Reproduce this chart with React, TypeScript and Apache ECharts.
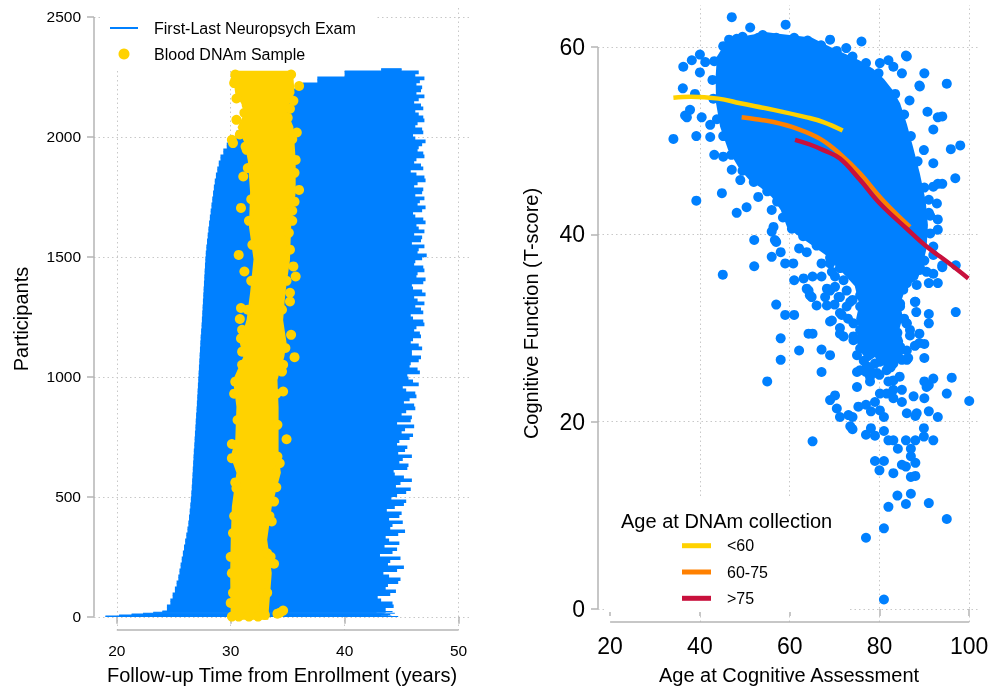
import { useEffect, useRef } from 'react'
import * as echarts from 'echarts'

const FONT = '"Liberation Sans", Arial, Helvetica, sans-serif'
const BLUE = '#0080ff'
const GOLD = '#ffd200'
const ORANGE = '#ff8000'
const CRIMSON = '#c8103c'
const AXIS = '#b4b4b4'
const GRID = '#c8c8c8'

// left panel: participants grouped in bands (index edges), first exam and last exam (years)
const bandEdges = [
  0, 4, 8, 12, 16, 20,
  25, 50, 75, 100, 125, 150, 175, 200, 225, 250, 275,
  300, 325, 350, 375, 400, 425, 450, 475,
  500, 525, 550, 575, 600, 625, 650, 675,
  700, 725, 750, 775, 800, 825, 850, 875,
  900, 925, 950, 975, 1000, 1025, 1050, 1075, 1100, 1125, 1150, 1175,
  1200, 1225, 1250, 1275, 1300, 1325, 1350, 1375, 1400, 1425, 1450, 1475,
  1500, 1525, 1550, 1575, 1600, 1625, 1650, 1675, 1700, 1725, 1750, 1775,
  1800, 1825, 1850, 1875, 1900, 1925, 1950, 1975,
  2000, 2025, 2050, 2075, 2100, 2125, 2150, 2175, 2200, 2225, 2250,
  2275, 2285,
]
const bandStart = [
  19.0, 20.2, 21.3, 22.3, 23.2, 24.0,
  24.4, 24.7, 24.9, 25.1, 25.25, 25.4, 25.5, 25.6, 25.7, 25.8, 25.9,
  26.0, 26.1, 26.2, 26.28, 26.34, 26.4, 26.45, 26.5,
  26.54, 26.58, 26.61, 26.64, 26.67, 26.7, 26.73, 26.76,
  26.8, 26.83, 26.86, 26.9, 26.93, 26.96, 27.0, 27.03,
  27.06, 27.09, 27.12, 27.15, 27.18, 27.21, 27.24, 27.27, 27.3, 27.33, 27.36, 27.4,
  27.44, 27.47, 27.5, 27.53, 27.56, 27.59, 27.62, 27.65, 27.68, 27.71, 27.74, 27.77,
  27.81, 27.86, 27.92, 27.98, 28.04, 28.1, 28.17, 28.24, 28.31, 28.38, 28.45, 28.52,
  28.6, 28.7, 28.82, 28.95, 29.1, 29.35, 29.65, 30.0,
  30.5, 31.0, 31.6, 32.3, 33.0, 33.8, 34.6, 35.4, 36.3, 37.6, 40.0,
  43.2,
]
// last exam, lower half of each band
const bandEnd = [
  44.7, 43.2, 44.0, 43.5, 42.8, 44.2,
  43.6, 44.2, 42.9, 44.5, 43.8, 44.9, 43.4, 45.2, 44.0, 43.1, 44.6,
  44.8, 43.6, 45.3, 44.2, 43.9, 45.0, 44.4, 45.4,
  44.6, 45.8, 44.9, 45.2, 44.3, 45.6, 45.1, 44.7,
  45.5, 44.8, 46.0, 45.3, 44.6, 45.9, 45.4, 46.1,
  45.7, 46.2, 45.1, 46.0, 45.5, 46.4, 45.8, 46.7, 45.9, 46.5, 46.0, 46.6,
  46.3, 46.9, 45.8, 46.7, 47.0, 46.1, 46.8, 45.9, 47.1, 46.4, 46.9, 46.2,
  47.2, 46.5, 45.9, 46.8, 47.0, 46.3, 46.9, 46.0, 47.1, 46.6, 46.2, 46.9,
  46.4, 47.0, 45.8, 46.7, 46.3, 46.9, 46.5, 47.1,
  46.0, 46.8, 46.4, 46.9, 46.2, 46.7, 46.5, 46.3, 46.8, 46.6, 46.2,
  45.0,
]
// last exam, upper half of each band
const bandEndUpper = [
  44.1, 43.8, 43.3, 44.4, 43.6, 43.0,
  44.3, 43.2, 44.0, 43.6, 44.7, 43.9, 44.6, 43.8, 44.9, 44.2, 43.5,
  43.9, 44.7, 44.0, 45.1, 44.8, 43.7, 45.2, 44.1,
  45.4, 44.5, 45.9, 44.4, 45.5, 44.8, 45.9, 45.3,
  44.6, 45.7, 45.0, 46.1, 45.8, 45.0, 46.2, 45.2,
  46.3, 45.4, 46.5, 45.6, 46.6, 45.7, 46.5, 45.9, 46.8, 45.8, 46.7, 46.1,
  47.0, 46.0, 46.9, 46.2, 46.4, 47.1, 46.0, 46.9, 46.3, 47.0, 46.1, 46.8,
  46.4, 47.0, 46.7, 46.1, 46.5, 47.1, 46.2, 46.8, 46.4, 47.0, 46.8, 46.1,
  47.1, 46.3, 46.9, 46.1, 47.0, 46.4, 46.8, 46.2,
  46.9, 46.2, 47.0, 46.5, 46.9, 46.1, 47.0, 46.7, 46.3, 47.0, 46.5,
  45.0,
]

// dense column of DNAm samples: left and right outline [years, participant]
const dnamCoreLeft = [
  [30.0, -12], [29.95, 180], [30.0, 320], [30.1, 460], [30.5, 600], [30.0, 667], [30.4, 740],
  [30.5, 875], [30.2, 987], [31.1, 1083], [30.8, 1140], [31.4, 1240], [31.7, 1350], [32.0, 1490],
  [31.6, 1625], [31.7, 1770], [31.5, 1900], [31.2, 1975], [30.6, 2040], [31.3, 2110], [30.4, 2180],
  [30.2, 2250], [30.4, 2276],
]
const dnamCoreRight = [
  [35.2, 2276], [35.5, 2250], [35.6, 2183], [34.9, 2112], [35.5, 2042], [35.6, 1975], [35.7, 1904],
  [35.7, 1767], [35.3, 1625], [35.2, 1487], [34.8, 1350], [34.6, 1237], [34.9, 1142], [34.7, 1083],
  [34.1, 987], [34.2, 875], [34.2, 737], [34.2, 667], [34.4, 600], [33.6, 458], [33.2, 321],
  [33.6, 183], [33.3, 0], [33.3, -12],
]
// individual DNAm samples around and along the column [years, participant]
const dnamPoints = [
  [30.3, 2224], [30.5, 2071], [30.1, 1988], [31.4, 2133], [31.4, 1946], [31.1, 1835], [30.9, 1704],
  [30.7, 1508], [31.2, 1439], [30.9, 1287], [30.8, 1241], [31.0, 1196], [35.2, 2117], [35.8, 2018],
  [36.0, 1779], [35.7, 1904], [35.5, 1460], [35.7, 1418], [35.2, 1350], [35.3, 1175], [36.0, 2212],
  [35.4, 1692], [35.1, 1600], [35.6, 1082], [34.6, 939], [34.9, 740], [33.8, 480], [33.8, 221],
  [34.3, 17], [34.1, 13], [34.6, 26], [30.1, 661], [30.4, 980], [31.0, 1105], [30.1, 1], [30.7, 1],
  [31.6, 1], [32.4, 1], [33.0, 8], [30.0, 58], [30.1, 182], [30.2, 349], [30.5, 536], [33.9, 599],
  [34.1, 668], [33.6, 397], [33.2, 265], [33.0, 168], [32.9, 57], [34.5, 1022], [31.3, 1960],
  [30.2, 1974], [30.4, 2237], [35.2, 1314],
  [30.2, 100], [30.0, 250], [30.3, 420], [30.4, 560], [30.1, 720], [30.6, 820], [30.3, 930],
  [31.0, 1050], [30.9, 1160], [31.5, 1280], [31.8, 1400], [31.9, 1550], [31.6, 1650], [31.8, 1740],
  [31.5, 1870], [30.8, 2010], [31.2, 2100], [30.5, 2160], [30.4, 2260],
  [33.2, 100], [33.5, 250], [33.4, 420], [34.0, 540], [34.3, 640], [34.1, 800], [34.0, 930],
  [34.6, 1050], [34.8, 1120], [34.5, 1280], [34.9, 1400], [35.2, 1530], [35.4, 1650], [35.6, 1730],
  [35.6, 1850], [35.4, 1990], [35.0, 2080], [35.5, 2150], [35.3, 2260],
]

// right panel: dense centre of the assessments and its lower tail [age, T-score]
const cogCore = [
  [43.8, 59.0], [45.5, 60.3], [48, 61.0], [51.2, 61.3], [55, 61.6], [58, 61.4], [62, 61.2],
  [65, 61.0], [67.5, 60.4], [70, 59.8], [72.7, 59.2], [75.5, 58.6], [78.6, 57.7], [81, 56.6],
  [82.8, 55.5], [84.6, 54.0], [86.1, 51.8], [87.5, 49.3], [89.0, 46.5], [90.3, 43.6], [90.8, 41.0],
  [90.5, 38.5], [89.5, 36.5], [88.5, 35.2], [86.0, 34.5], [84.6, 32.5], [80.0, 32.0], [75.5, 32.5],
  [74.5, 34.5], [72.0, 35.8], [70.5, 36.5], [68, 37.8], [64.5, 39.0], [61.5, 40.0], [59.4, 40.8],
  [58.0, 42.6], [56.0, 44.0], [53.5, 45.0], [51.0, 45.8], [48.8, 47.0], [46.3, 49.0], [44.5, 51.5],
  [43.6, 54.0], [43.5, 56.8],
]
const cogTail = [
  [75.5, 32.5], [74.8, 31.0], [75.6, 29.8], [75.0, 28.4], [76.2, 27.2], [77.5, 26.4], [79.0, 26.9],
  [80.3, 25.9], [81.8, 26.6], [83.2, 25.9], [84.6, 27.0], [85.3, 28.6], [84.4, 29.8], [85.2, 31.2],
  [84.6, 32.5],
]
// individual assessments [age, T-score]
const cogPoints = [
  [47.1, 63.2], [51.2, 62.1], [59.1, 62.4], [53.0, 61.0], [48.2, 60.9], [45.2, 60.1], [69.0, 60.8],
  [76.0, 60.6], [72.6, 59.9], [80.1, 58.3], [82.0, 58.6], [86.1, 59.0], [83.1, 57.9], [85.0, 57.2],
  [90.0, 57.2], [95.0, 56.1], [88.9, 55.9], [86.7, 54.3], [90.7, 53.1], [94.0, 52.6], [92.0, 51.2],
  [95.9, 49.1], [98.0, 49.5], [89.9, 49.0], [92.0, 47.6], [94.0, 45.4], [96.9, 46.0], [92.0, 45.1],
  [92.8, 43.3], [91.3, 42.0], [36.3, 57.9], [38.2, 58.6], [40.0, 59.2], [41.2, 58.4], [40.0, 57.3],
  [36.2, 55.6], [38.9, 55.0], [37.8, 53.3], [37.1, 52.5], [40.4, 52.5], [42.3, 51.7], [42.3, 50.4],
  [34.1, 50.2], [39.2, 50.5], [43.2, 48.5], [45.2, 48.3], [47.1, 46.9], [44.9, 44.4], [39.2, 43.6],
  [48.2, 42.3], [50.4, 42.9], [53.0, 44.0], [56.0, 42.6], [56.4, 40.8], [49.0, 45.8], [45.1, 35.7],
  [36.7, 52.7], [52.1, 39.4], [52.1, 36.6], [56.0, 40.3], [57.0, 39.2], [59.0, 36.9], [60.8, 36.9],
  [85.9, 59.1], [97.0, 31.7], [93.0, 52.5], [89.0, 55.8], [93.0, 45.4], [91.0, 43.7], [93.0, 41.6],
  [93.0, 40.5], [91.3, 40.1], [92.0, 38.7], [94.0, 36.5], [89.0, 36.5], [92.0, 35.8], [91.0, 34.8],
  [93.0, 34.8], [88.0, 32.8], [56.0, 37.6], [56.7, 39.4], [58.0, 38.1], [61.0, 35.1], [63.1, 35.3],
  [65.1, 35.5], [67.1, 35.5], [62.1, 38.5], [63.8, 38.1], [64.2, 34.0], [64.9, 33.3], [66.0, 32.4],
  [67.9, 33.3], [69.0, 34.0], [70.1, 35.5], [71.2, 33.3], [72.7, 32.3], [57.0, 32.5], [59.0, 31.4],
  [61.0, 31.4], [58.0, 28.9], [58.0, 26.6], [62.1, 27.6], [64.2, 29.4], [65.1, 29.4], [67.1, 27.7],
  [69.0, 27.1], [67.1, 25.3], [55.0, 24.3], [69.4, 30.8], [71.2, 31.6], [71.2, 29.4], [74.2, 29.1],
  [75.7, 27.8], [75.0, 25.3], [77.9, 24.3], [75.0, 23.7], [70.1, 22.8], [69.0, 22.3], [70.5, 21.4],
  [71.2, 20.5], [73.5, 19.5], [75.3, 21.6], [79.0, 22.1], [80.1, 21.2], [81.6, 23.0], [83.1, 23.4],
  [85.0, 22.1], [86.1, 20.9], [88.3, 20.9], [90.0, 22.5], [90.0, 24.3], [92.0, 24.6], [96.1, 24.7],
  [95.0, 23.0], [100.0, 22.2], [93.0, 20.5], [90.0, 26.8], [90.0, 28.3], [87.9, 28.1], [88.9, 29.4],
  [91.0, 30.5], [91.0, 31.5], [88.2, 31.7], [87.9, 32.8], [94.0, 36.7], [97.0, 36.7], [90.0, 37.2],
  [86.8, 29.8], [84.6, 28.0], [86.1, 26.6], [83.1, 26.9], [80.1, 26.4], [78.7, 28.0], [80.9, 29.4],
  [77.2, 29.4], [78.7, 30.8], [82.4, 31.2], [74.2, 30.5], [75.7, 32.3], [78.7, 33.0], [81.6, 33.0],
  [84.6, 32.6], [85.3, 34.1], [83.1, 24.4], [79.4, 25.2], [81.6, 25.5], [77.9, 25.5], [87.6, 22.7],
  [90.5, 23.7], [65.1, 17.9], [74.0, 19.2], [74.0, 20.5], [77.0, 18.6], [78.1, 19.3], [79.0, 18.5],
  [81.0, 20.5], [81.0, 19.0], [82.0, 18.0], [83.1, 18.0], [84.1, 17.1], [85.9, 18.0], [87.0, 17.1],
  [87.0, 16.3], [88.0, 15.6], [85.9, 15.2], [85.0, 15.4], [83.1, 14.5], [80.0, 14.8], [79.0, 15.8],
  [81.0, 15.8], [87.0, 14.1], [88.0, 14.2], [87.0, 12.3], [84.0, 12.1], [85.9, 11.2], [82.0, 10.9],
  [91.0, 11.3], [95.0, 9.6], [81.0, 8.6], [77.0, 7.6], [81.0, 1.0], [88.0, 18.0], [89.9, 18.4],
  [92.0, 18.0], [89.9, 19.3], [88.0, 20.6], [91.0, 21.1], [91.0, 23.9], [83.1, 22.5], [85.0, 23.4],
  [82.0, 24.3], [80.1, 23.0], [78.1, 21.1], [77.0, 21.8], [73.1, 20.7], [77.9, 24.8], [80.0, 25.0],
  [77.0, 25.3], [79.0, 26.2], [83.1, 26.2], [85.0, 26.6], [86.4, 26.8], [88.9, 28.4], [86.8, 29.2],
  [74.0, 33.0], [77.0, 31.8], [80.0, 31.5], [83.0, 30.5], [85.5, 31.0], [76.0, 29.0], [79.5, 28.0],
  [82.0, 28.5], [84.0, 29.5], [86.0, 30.5], [73.0, 31.0], [70.0, 32.5], [76.5, 26.5], [82.5, 25.8],
  [84.5, 24.8], [81.0, 27.5],
  [67.1, 36.9], [69.0, 36.9], [63.8, 34.2], [64.5, 33.5], [68.3, 32.4], [68.3, 34.2], [70.9, 33.3],
  [73.5, 32.8], [71.6, 31.4], [69.0, 30.7], [71.2, 30.0], [72.0, 29.1], [75.7, 25.5], [75.0, 27.1],
  [74.2, 28.7], [75.7, 29.8], [76.4, 28.7], [78.3, 30.3], [80.1, 29.6], [81.6, 30.1], [83.1, 29.2],
  [84.6, 27.6], [83.9, 26.8], [81.6, 26.4], [77.2, 25.9], [80.1, 27.6], [78.7, 28.7], [82.7, 28.5],
  [86.1, 27.6], [86.1, 30.5], [83.1, 31.2], [79.4, 31.4], [77.2, 31.2], [84.6, 32.3], [81.6, 32.8],
  [75.7, 33.5], [72.7, 34.0], [70.1, 34.4], [72.0, 35.1], [69.4, 36.0], [71.2, 36.4], [89.0, 36.2],
  [90.5, 36.0], [92.0, 37.8], [86.1, 34.8], [88.3, 34.6],
  [46.5, 60.8], [49.5, 61.1], [54.0, 61.3], [57.0, 61.0], [61.0, 61.0], [64.0, 60.7], [67.0, 60.2],
  [70.5, 59.6], [74.0, 59.0], [77.0, 58.3], [79.8, 57.2], [83.5, 55.0], [85.5, 52.8], [87.0, 50.5],
  [88.5, 47.8], [90.0, 45.0], [91.0, 42.3], [43.2, 58.5], [42.8, 56.5], [43.0, 54.5], [43.8, 52.3],
  [45.2, 50.5], [47.0, 48.5], [49.5, 46.8], [52.0, 45.6], [55.0, 44.6], [57.2, 43.5], [58.5, 41.8],
  [60.5, 40.6], [63.0, 39.8], [66.0, 38.8], [69.0, 37.5],
]

// smoothed trajectories by age at DNAm collection [age, T-score]
const curveUnder60 = [
  [34.1, 54.6], [38, 54.7], [44.1, 54.5], [49.0, 54.0], [56.4, 53.3], [63.8, 52.5], [67.5, 52.0], [71.8, 51.1],
]
const curve60to75 = [
  [49.3, 52.5], [52.5, 52.3], [56.4, 52.0], [61.6, 51.3], [66.8, 50.2], [71.2, 48.6], [75.7, 46.5],
  [80.1, 44.0], [83.5, 42.3], [86.8, 40.8],
]
const curveOver75 = [
  [61.2, 50.1], [64.5, 49.6], [67.5, 49.0], [71.2, 48.1], [75.7, 45.8], [80.1, 43.3], [86.1, 40.6],
  [90.5, 38.7], [95.0, 37.1], [99.8, 35.3],
]

const followTicks = [20, 30, 40, 50]
const participantTicks = [0, 500, 1000, 1500, 2000, 2500]
const ageTicks = [20, 40, 60, 80, 100]
const ageGridlines = [40, 60, 80, 100]
const scoreTicks = [0, 20, 40, 60]

const bands = bandStart.map((s, i) => [bandEdges[i], bandEdges[i + 1], s, bandEnd[i], bandEndUpper[i]])

const tickStyle = { show: true, length: 7, lineStyle: { color: AXIS, width: 1.5 } }
const gridStyle = { show: true, lineStyle: { color: GRID, width: 1, type: [1.5, 3] } }
const nameStyle = { fontFamily: FONT, fontSize: 20, color: '#000' }
const plain = (v: number) => String(v)

function polygonSeries(name: string, pts: number[][], color: string, idx: number, z: number) {
  return {
    type: 'custom',
    name,
    xAxisIndex: idx,
    yAxisIndex: idx,
    z,
    silent: true,
    itemStyle: { color },
    data: [pts[0]],
    renderItem: (_p: any, api: any) => ({
      type: 'polygon',
      shape: { points: pts.map((p) => api.coord(p)) },
      style: { fill: color },
    }),
  }
}

function axisLineSeries(pts: number[][], idx: number) {
  return {
    type: 'line',
    xAxisIndex: idx,
    yAxisIndex: idx,
    data: pts,
    symbol: 'none',
    silent: true,
    clip: false,
    z: 4,
    lineStyle: { color: AXIS, width: 1.5 },
  }
}

function Chart() {
  const ref = useRef<HTMLDivElement>(null)

  useEffect(() => {
    if (!ref.current) return
    const chart = echarts.init(ref.current, undefined, { renderer: 'svg' })

    chart.setOption({
      animation: false,
      textStyle: { fontFamily: FONT },
      grid: [
        { left: 94, top: 8, width: 376, height: 622, containLabel: false, outerBoundsMode: 'none' },
        { left: 598, top: 5, width: 382, height: 617, containLabel: false, outerBoundsMode: 'none' },
      ],
      xAxis: [
        {
          gridIndex: 0, type: 'value', min: 18, max: 51,
          axisLine: { show: false },
          axisTick: { ...tickStyle, customValues: followTicks },
          axisLabel: { customValues: followTicks, formatter: plain, fontSize: 15.5, color: '#000', margin: 12 },
          splitLine: gridStyle,
          name: 'Follow-up Time from Enrollment (years)',
          nameLocation: 'middle', nameGap: 35, nameTextStyle: nameStyle,
        },
        {
          gridIndex: 1, type: 'value', min: 17.3, max: 102.4,
          axisLine: { show: false },
          axisTick: { ...tickStyle, customValues: ageTicks },
          axisLabel: { customValues: ageTicks, formatter: plain, fontSize: 23, color: '#000', margin: 12 },
          splitLine: { show: false },
          name: 'Age at Cognitive Assessment',
          nameLocation: 'middle', nameGap: 43, nameTextStyle: nameStyle,
        },
      ],
      yAxis: [
        {
          gridIndex: 0, type: 'value', min: -55, max: 2537,
          axisLine: { show: false },
          axisTick: { ...tickStyle, customValues: participantTicks },
          axisLabel: { customValues: participantTicks, formatter: plain, fontSize: 15.5, color: '#000', margin: 13 },
          splitLine: gridStyle,
          name: 'Participants',
          nameLocation: 'middle', nameGap: 63, nameTextStyle: nameStyle,
        },
        {
          gridIndex: 1, type: 'value', min: -1.4, max: 64.5,
          axisLine: { show: false },
          axisTick: { ...tickStyle, customValues: scoreTicks },
          axisLabel: { customValues: scoreTicks, formatter: plain, fontSize: 23, color: '#000', margin: 13 },
          splitLine: gridStyle,
          name: 'Cognitive Function (T-score)',
          nameLocation: 'middle', nameGap: 57, nameTextStyle: nameStyle,
        },
      ],
      legend: [
        {
          left: 110, top: 20, orient: 'vertical', padding: 0,
          itemWidth: 28, itemHeight: 11, itemGap: 10, selectedMode: false,
          textStyle: { fontFamily: FONT, fontSize: 16, color: '#000', padding: [0, 0, 0, 11] },
          data: [
            { name: 'First-Last Neuropsych Exam', icon: 'path://M0,0H28V2H0Z' },
            { name: 'Blood DNAm Sample', icon: 'circle' },
          ],
        },
        {
          left: 682, top: 537.7, orient: 'vertical', padding: 0,
          itemWidth: 29, itemHeight: 5, itemGap: 10.3, selectedMode: false,
          textStyle: { fontFamily: FONT, fontSize: 16, color: '#000', padding: [0, 0, 0, 11] },
          data: [
            { name: '<60', icon: 'rect' },
            { name: '60-75', icon: 'rect' },
            { name: '>75', icon: 'rect' },
          ],
        },
      ],
      graphic: [
        { type: 'rect', z: 1, silent: true, shape: { x: 100, y: 5, width: 276, height: 65 }, style: { fill: '#fff' } },
        { type: 'rect', z: 1, silent: true, shape: { x: 605, y: 498, width: 243, height: 114 }, style: { fill: '#fff' } },
        {
          type: 'text', z: 5, x: 621, y: 521,
          style: { text: 'Age at DNAm collection', font: `20px ${FONT}`, fill: '#000', verticalAlign: 'middle' },
        },
      ],
      series: [
        {
          type: 'custom',
          name: 'First-Last Neuropsych Exam',
          xAxisIndex: 0, yAxisIndex: 0, z: 2, silent: true,
          itemStyle: { color: BLUE },
          data: bands,
          renderItem: (_p: any, api: any) => {
            const lo = api.value(0)
            const hi = api.value(1)
            const mid = (lo + hi) / 2
            const a = api.coord([api.value(2), lo])
            const m1 = api.coord([api.value(3), mid])
            const m2 = api.coord([api.value(4), hi])
            return {
              type: 'group',
              children: [
                {
                  type: 'rect',
                  shape: { x: a[0], y: m1[1] - 0.3, width: m1[0] - a[0], height: a[1] - m1[1] + 0.6 },
                  style: { fill: BLUE },
                },
                {
                  type: 'rect',
                  shape: { x: a[0], y: m2[1] - 0.3, width: m2[0] - a[0], height: m1[1] - m2[1] + 0.6 },
                  style: { fill: BLUE },
                },
              ],
            }
          },
        },
        polygonSeries('Blood DNAm Sample', [...dnamCoreLeft, ...dnamCoreRight], GOLD, 0, 3),
        {
          type: 'scatter', name: 'Blood DNAm Sample', xAxisIndex: 0, yAxisIndex: 0, z: 3, silent: true,
          symbolSize: 10, itemStyle: { color: GOLD, opacity: 1 }, data: dnamPoints,
        },
        polygonSeries('cloud', cogCore, BLUE, 1, 2),
        polygonSeries('cloud', cogTail, BLUE, 1, 2),
        {
          type: 'scatter', name: 'assessments', xAxisIndex: 1, yAxisIndex: 1, z: 2, silent: true,
          symbolSize: 10, itemStyle: { color: BLUE, opacity: 1 }, data: cogPoints,
        },
        {
          type: 'line', name: '<60', xAxisIndex: 1, yAxisIndex: 1, z: 3, data: curveUnder60,
          smooth: 0.4, symbol: 'none', color: GOLD, lineStyle: { width: 4.5, color: GOLD },
        },
        {
          type: 'line', name: '60-75', xAxisIndex: 1, yAxisIndex: 1, z: 3, data: curve60to75,
          smooth: 0.4, symbol: 'none', color: ORANGE, lineStyle: { width: 4.5, color: ORANGE },
        },
        {
          type: 'line', name: '>75', xAxisIndex: 1, yAxisIndex: 1, z: 3, data: curveOver75,
          smooth: 0.4, symbol: 'none', color: CRIMSON, lineStyle: { width: 4.5, color: CRIMSON },
        },
        axisLineSeries([[20, -55], [50, -55]], 0),
        axisLineSeries([[18, 0], [18, 2500]], 0),
        {
          ...axisLineSeries([[20, -1.4], [100, -1.4]], 1),
          markLine: {
            silent: true, symbol: 'none', z: 0.5,
            label: { show: false },
            lineStyle: { color: GRID, width: 1, type: [1.5, 3] },
            data: ageGridlines.map((v) => ({ xAxis: v })),
          },
        },
        axisLineSeries([[17.3, 0], [17.3, 60]], 1),
      ],
    })

    return () => chart.dispose()
  }, [])

  return <div ref={ref} style={{ position: 'fixed', left: 0, top: 0, width: 991, height: 686 }} />
}

export default function App() {
  return <Chart />
}
